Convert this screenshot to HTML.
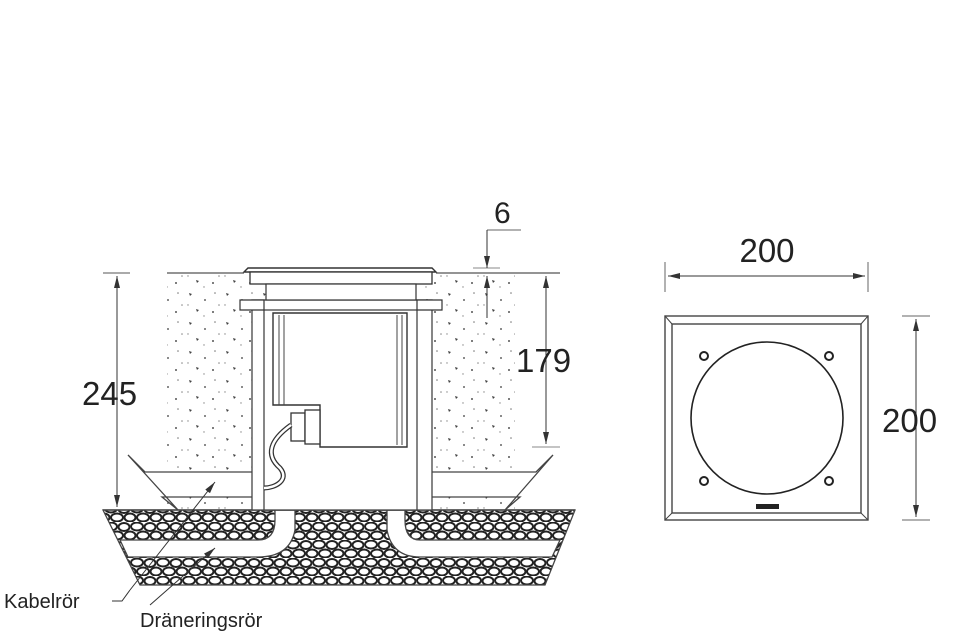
<!DOCTYPE html>
<html><head><meta charset="utf-8"><style>
html,body{margin:0;padding:0;background:#fff}
svg{display:block}
text{font-family:"Liberation Sans",sans-serif;fill:#222}
</style></head><body>
<svg width="960" height="640" viewBox="0 0 960 640" xmlns="http://www.w3.org/2000/svg">
<defs>
<pattern id="grav" width="26" height="18" patternUnits="userSpaceOnUse">
<rect width="26" height="18" fill="#fff"/>
<ellipse cx="7" cy="4.5" rx="6" ry="4" fill="none" stroke="#222" stroke-width="2"/>
<ellipse cx="20" cy="5" rx="5.5" ry="4" fill="none" stroke="#222" stroke-width="2"/>
<ellipse cx="13" cy="13.5" rx="6" ry="4" fill="none" stroke="#222" stroke-width="2"/>
<ellipse cx="0" cy="13.5" rx="5.5" ry="4" fill="none" stroke="#222" stroke-width="2"/>
<ellipse cx="26" cy="13.5" rx="5.5" ry="4" fill="none" stroke="#222" stroke-width="2"/>
</pattern>
<pattern id="conc" width="37" height="29" patternUnits="userSpaceOnUse">
<rect width="37" height="29" fill="#fff"/>
<path d="M4,3 L7,4 L5,6Z" fill="#444"/><circle cx="20" cy="10" r="1" fill="#666"/>
<circle cx="30" cy="3" r="0.8" fill="#777"/><path d="M11,19 L14,20 L12,22Z" fill="#444"/>
<circle cx="28" cy="22" r="1" fill="#555"/><circle cx="3" cy="15" r="0.7" fill="#888"/>
<circle cx="34" cy="15" r="0.8" fill="#888"/><circle cx="19" cy="26" r="0.7" fill="#888"/>
</pattern>
<marker id="ar" viewBox="0 0 12 8" refX="12" refY="4" markerWidth="12" markerHeight="8" markerUnits="userSpaceOnUse" orient="auto-start-reverse"><path d="M0,1 L12,4 L0,7z" fill="#333"/></marker>
</defs>

<rect x="167" y="274" width="348" height="236" fill="url(#conc)"/>
<path d="M128,455 L145,472 L262,472 L262,497 L162,497 L178,510 Z" fill="#fff" stroke="#444" stroke-width="1.3"/>
<path d="M553,455 L536,472 L420,472 L420,497 L520,497 L505,510 Z" fill="#fff" stroke="#444" stroke-width="1.3"/>
<path d="M103,510 L575,510 L545,585 L140,585 Z" fill="url(#grav)" stroke="#444" stroke-width="1.3"/>
<path d="M120,540 L258,540 Q275,540 275,520 L275,510 L295,510 L295,530 Q290,557 258,557 L128,557 Z" fill="#fff" stroke="#444" stroke-width="1.3"/>
<path d="M560,540 L420,540 Q405,540 405,520 L405,510 L387,510 L387,530 Q392,557 420,557 L552,557 Z" fill="#fff" stroke="#444" stroke-width="1.3"/>
<line x1="103" y1="510" x2="575" y2="510" stroke="#444" stroke-width="1.5"/>

<rect x="252" y="300" width="180" height="210" fill="#fff" stroke="#444" stroke-width="1.3"/>
<rect x="264" y="310" width="153" height="200" fill="#fff" stroke="#444" stroke-width="1.3"/>
<path d="M273,313 L407,313 L407,447 L320,447 L320,405 L273,405 Z" fill="#fff" stroke="#333" stroke-width="1.4"/>
<line x1="279" y1="315" x2="279" y2="405" stroke="#444"/><line x1="284" y1="315" x2="284" y2="405" stroke="#444"/>
<line x1="397" y1="315" x2="397" y2="445" stroke="#444"/><line x1="402" y1="315" x2="402" y2="445" stroke="#444"/>
<rect x="291" y="413" width="14" height="28" fill="#fff" stroke="#333" stroke-width="1.3"/>
<rect x="305" y="410" width="15" height="34" fill="#fff" stroke="#333" stroke-width="1.3"/>
<path d="M291,425 C270,440 265,455 280,468 C290,480 275,488 264,488" fill="none" stroke="#333" stroke-width="5"/>
<path d="M291,425 C270,440 265,455 280,468 C290,480 275,488 264,488" fill="none" stroke="#fff" stroke-width="2.5"/>
<path d="M244,272 L248,268 L432,268 L436,272 Z" fill="#fff" stroke="#333" stroke-width="1.4"/>
<rect x="250" y="272" width="182" height="12" fill="#fff" stroke="#333" stroke-width="1.3"/>
<rect x="266" y="284" width="150" height="16" fill="#fff" stroke="#333" stroke-width="1.2"/>
<path d="M240,300 L240,310 L264,310 L264,300 Z M417,300 L417,310 L442,310 L442,300 Z" fill="#fff" stroke="#333" stroke-width="1.2"/>
<line x1="167" y1="273" x2="244" y2="273" stroke="#555" stroke-width="1.3"/>
<line x1="436" y1="273" x2="560" y2="273" stroke="#555" stroke-width="1.3"/>

<line x1="103" y1="273" x2="130" y2="273" stroke="#555"/>
<line x1="117" y1="276" x2="117" y2="507" stroke="#333" marker-start="url(#ar)" marker-end="url(#ar)"/>
<text x="82" y="405" font-size="33">245</text>
<line x1="532" y1="447" x2="560" y2="447" stroke="#888"/>
<line x1="546" y1="276" x2="546" y2="444" stroke="#333" marker-start="url(#ar)" marker-end="url(#ar)"/>
<text x="516" y="372" font-size="33">179</text>
<line x1="473" y1="268" x2="500" y2="268" stroke="#888"/>
<line x1="487" y1="230" x2="521" y2="230" stroke="#666"/>
<line x1="487" y1="230" x2="487" y2="268" stroke="#333" marker-end="url(#ar)"/>
<line x1="487" y1="318" x2="487" y2="276" stroke="#333" marker-end="url(#ar)"/>
<text x="494" y="223" font-size="30">6</text>

<line x1="215" y1="482" x2="130" y2="590" stroke="#333" marker-start="url(#ar)"/>
<path d="M130,590 L122,601 L112,601" fill="none" stroke="#333"/>
<line x1="215" y1="548" x2="150" y2="605" stroke="#333" marker-start="url(#ar)"/>
<text x="4" y="608" font-size="20">Kabelrör</text>
<text x="140" y="627" font-size="20">Dräneringsrör</text>

<rect x="665" y="316" width="203" height="204" fill="#fff" stroke="#444" stroke-width="1.4"/>
<rect x="672" y="324" width="189" height="189" fill="#fff" stroke="#444" stroke-width="1.4"/>
<path d="M665,316 L672,324 M868,316 L861,324 M665,520 L672,513 M868,520 L861,513" stroke="#444"/>
<circle cx="767" cy="418" r="76" fill="none" stroke="#222" stroke-width="1.6"/>
<g fill="none" stroke="#222" stroke-width="2"><circle cx="704" cy="356" r="4"/><circle cx="829" cy="356" r="4"/><circle cx="704" cy="481" r="4"/><circle cx="829" cy="481" r="4"/></g>
<rect x="756" y="504" width="23" height="5" fill="#222"/>
<line x1="665" y1="262" x2="665" y2="292" stroke="#666"/>
<line x1="868" y1="262" x2="868" y2="292" stroke="#666"/>
<line x1="668" y1="276" x2="865" y2="276" stroke="#333" marker-start="url(#ar)" marker-end="url(#ar)"/>
<text x="767" y="262" font-size="33" text-anchor="middle">200</text>
<line x1="902" y1="316" x2="930" y2="316" stroke="#666"/>
<line x1="902" y1="520" x2="930" y2="520" stroke="#666"/>
<line x1="916" y1="319" x2="916" y2="517" stroke="#333" marker-start="url(#ar)" marker-end="url(#ar)"/>
<text x="882" y="432" font-size="33">200</text>
</svg>
</body></html>
